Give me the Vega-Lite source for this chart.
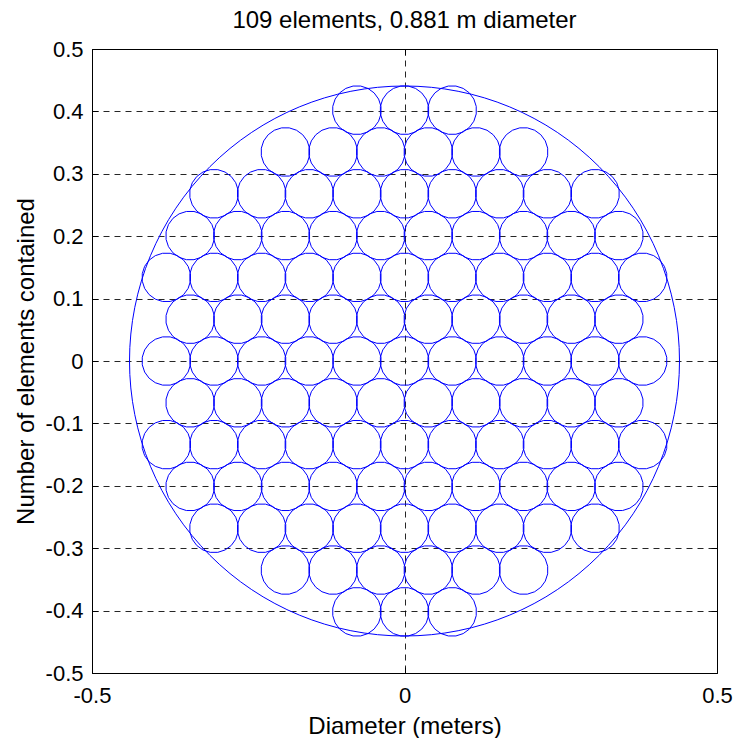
{
  "$schema": "https://vega.github.io/schema/vega-lite/v6.json",
  "width": 625,
  "height": 624,
  "autosize": "none",
  "padding": {"left": 92, "top": 49, "right": 18, "bottom": 65},
  "background": "white",
  "title": {"text": "109 elements, 0.881 m diameter", "fontSize": 24, "fontWeight": "normal", "font": "Liberation Sans", "color": "black", "offset": 5, "anchor": "middle"},
  "config": {
    "font": "Liberation Sans",
    "view": {"stroke": "black", "strokeWidth": 1},
    "axis": {
      "domain": false,
      "labelFont": "Liberation Sans",
      "labelFontSize": 22,
      "labelColor": "black",
      "titleFont": "Liberation Sans",
      "titleFontSize": 24,
      "titleFontWeight": "normal",
      "titleColor": "black",
      "tickColor": "black",
      "tickWidth": 1,
      "gridColor": "black",
      "gridOpacity": 0.85,
      "gridDash": [6, 5],
      "gridWidth": 1,
      "labelFlush": false,
      "labelOverlap": false,
      "labelBound": false
    }
  },
  "layer": [
    {
      "data": {"values": [
        {"x": -0.0762, "y": 0.402}, {"x": 0, "y": 0.402}, {"x": 0.0762, "y": 0.402},
        {"x": -0.1905, "y": 0.335}, {"x": -0.1143, "y": 0.335}, {"x": -0.0381, "y": 0.335}, {"x": 0.0381, "y": 0.335}, {"x": 0.1143, "y": 0.335}, {"x": 0.1905, "y": 0.335},
        {"x": -0.3048, "y": 0.268}, {"x": -0.2286, "y": 0.268}, {"x": -0.1524, "y": 0.268}, {"x": -0.0762, "y": 0.268}, {"x": 0, "y": 0.268}, {"x": 0.0762, "y": 0.268}, {"x": 0.1524, "y": 0.268}, {"x": 0.2286, "y": 0.268}, {"x": 0.3048, "y": 0.268},
        {"x": -0.3429, "y": 0.201}, {"x": -0.2667, "y": 0.201}, {"x": -0.1905, "y": 0.201}, {"x": -0.1143, "y": 0.201}, {"x": -0.0381, "y": 0.201}, {"x": 0.0381, "y": 0.201}, {"x": 0.1143, "y": 0.201}, {"x": 0.1905, "y": 0.201}, {"x": 0.2667, "y": 0.201}, {"x": 0.3429, "y": 0.201},
        {"x": -0.381, "y": 0.134}, {"x": -0.3048, "y": 0.134}, {"x": -0.2286, "y": 0.134}, {"x": -0.1524, "y": 0.134}, {"x": -0.0762, "y": 0.134}, {"x": 0, "y": 0.134}, {"x": 0.0762, "y": 0.134}, {"x": 0.1524, "y": 0.134}, {"x": 0.2286, "y": 0.134}, {"x": 0.3048, "y": 0.134}, {"x": 0.381, "y": 0.134},
        {"x": -0.3429, "y": 0.067}, {"x": -0.2667, "y": 0.067}, {"x": -0.1905, "y": 0.067}, {"x": -0.1143, "y": 0.067}, {"x": -0.0381, "y": 0.067}, {"x": 0.0381, "y": 0.067}, {"x": 0.1143, "y": 0.067}, {"x": 0.1905, "y": 0.067}, {"x": 0.2667, "y": 0.067}, {"x": 0.3429, "y": 0.067},
        {"x": -0.381, "y": 0}, {"x": -0.3048, "y": 0}, {"x": -0.2286, "y": 0}, {"x": -0.1524, "y": 0}, {"x": -0.0762, "y": 0}, {"x": 0, "y": 0}, {"x": 0.0762, "y": 0}, {"x": 0.1524, "y": 0}, {"x": 0.2286, "y": 0}, {"x": 0.3048, "y": 0}, {"x": 0.381, "y": 0},
        {"x": -0.3429, "y": -0.067}, {"x": -0.2667, "y": -0.067}, {"x": -0.1905, "y": -0.067}, {"x": -0.1143, "y": -0.067}, {"x": -0.0381, "y": -0.067}, {"x": 0.0381, "y": -0.067}, {"x": 0.1143, "y": -0.067}, {"x": 0.1905, "y": -0.067}, {"x": 0.2667, "y": -0.067}, {"x": 0.3429, "y": -0.067},
        {"x": -0.381, "y": -0.134}, {"x": -0.3048, "y": -0.134}, {"x": -0.2286, "y": -0.134}, {"x": -0.1524, "y": -0.134}, {"x": -0.0762, "y": -0.134}, {"x": 0, "y": -0.134}, {"x": 0.0762, "y": -0.134}, {"x": 0.1524, "y": -0.134}, {"x": 0.2286, "y": -0.134}, {"x": 0.3048, "y": -0.134}, {"x": 0.381, "y": -0.134},
        {"x": -0.3429, "y": -0.201}, {"x": -0.2667, "y": -0.201}, {"x": -0.1905, "y": -0.201}, {"x": -0.1143, "y": -0.201}, {"x": -0.0381, "y": -0.201}, {"x": 0.0381, "y": -0.201}, {"x": 0.1143, "y": -0.201}, {"x": 0.1905, "y": -0.201}, {"x": 0.2667, "y": -0.201}, {"x": 0.3429, "y": -0.201},
        {"x": -0.3048, "y": -0.268}, {"x": -0.2286, "y": -0.268}, {"x": -0.1524, "y": -0.268}, {"x": -0.0762, "y": -0.268}, {"x": 0, "y": -0.268}, {"x": 0.0762, "y": -0.268}, {"x": 0.1524, "y": -0.268}, {"x": 0.2286, "y": -0.268}, {"x": 0.3048, "y": -0.268},
        {"x": -0.1905, "y": -0.335}, {"x": -0.1143, "y": -0.335}, {"x": -0.0381, "y": -0.335}, {"x": 0.0381, "y": -0.335}, {"x": 0.1143, "y": -0.335}, {"x": 0.1905, "y": -0.335},
        {"x": -0.0762, "y": -0.402}, {"x": 0, "y": -0.402}, {"x": 0.0762, "y": -0.402}
      ]},
      "mark": {
        "type": "point",
        "shape": "M0.988,0.156L0.891,0.454L0.707,0.707L0.454,0.891L0.156,0.988L-0.156,0.988L-0.454,0.891L-0.707,0.707L-0.891,0.454L-0.988,0.156L-0.988,-0.156L-0.891,-0.454L-0.707,-0.707L-0.454,-0.891L-0.156,-0.988L0.156,-0.988L0.454,-0.891L0.707,-0.707L0.891,-0.454L0.988,-0.156Z",
        "size": 2380,
        "filled": false,
        "stroke": "#0000ff",
        "strokeWidth": 1,
        "opacity": 1
      },
      "encoding": {
        "x": {"field": "x", "type": "quantitative", "scale": {"domain": [-0.5, 0.5], "nice": false, "zero": false},
          "axis": {"orient": "bottom", "values": [-0.5, 0, 0.5], "grid": true, "tickSize": -6, "labelPadding": 18, "title": "Diameter (meters)", "titleBaseline": "alphabetic", "titleY": 60,
            "labelExpr": "toString(round(datum.value*10)/10)"}},
        "y": {"field": "y", "type": "quantitative", "scale": {"domain": [-0.5, 0.5], "nice": false, "zero": false},
          "axis": {"orient": "left", "values": [-0.5, -0.4, -0.3, -0.2, -0.1, 0, 0.1, 0.2, 0.3, 0.4, 0.5], "grid": true, "tickSize": -6, "labelPadding": 15, "title": "Number of elements contained", "titleAngle": -90, "titleBaseline": "alphabetic", "titleX": -59, "titleY": 312, "titleAlign": "center",
            "labelExpr": "toString(round(datum.value*10)/10)"}}
      }
    },
    {
      "data": {"values": [{"x": 0, "y": 0}]},
      "mark": {"type": "point", "shape": "circle", "size": 302500, "filled": false, "stroke": "#0000ff", "strokeWidth": 1, "opacity": 1},
      "encoding": {
        "x": {"field": "x", "type": "quantitative",
          "axis": {"orient": "top", "values": [-0.5, 0, 0.5], "grid": false, "labels": false, "title": null, "tickSize": -6}},
        "y": {"field": "y", "type": "quantitative",
          "axis": {"orient": "right", "values": [-0.5, -0.4, -0.3, -0.2, -0.1, 0, 0.1, 0.2, 0.3, 0.4, 0.5], "grid": false, "labels": false, "title": null, "tickSize": -6}}
      }
    }
  ],
  "resolve": {"axis": {"x": "independent", "y": "independent"}}
}
